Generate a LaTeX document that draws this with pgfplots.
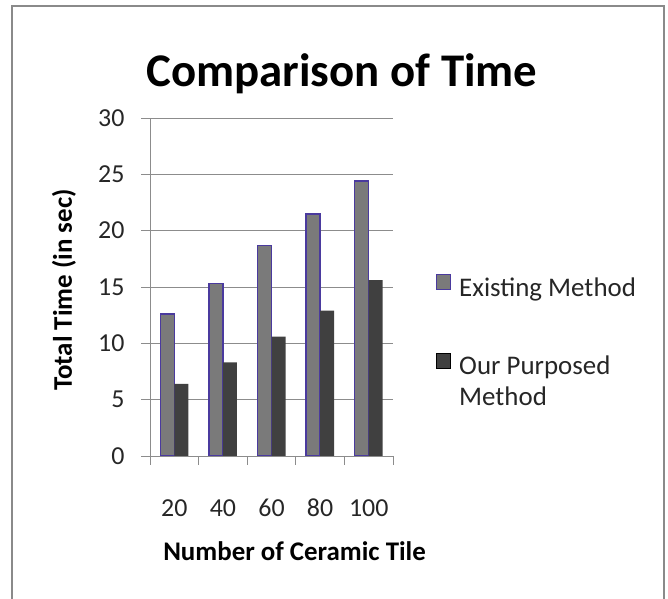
\documentclass[border=0pt]{standalone}
\usepackage{fontspec}
\setmainfont{Carlito}
\usepackage{pgfplots}
\pgfplotsset{compat=1.18}
\definecolor{exfill}{HTML}{7A7A7A}
\definecolor{ourfill}{HTML}{404040}
\definecolor{exedge}{HTML}{4A3A9E}
\definecolor{gridc}{HTML}{8C8C8C}
\definecolor{framec}{HTML}{8A8A8A}
\begin{document}
\begin{tikzpicture}[x=1bp,y=1bp]
\useasboundingbox (0,0) rectangle (668,599);
\draw[framec, line width=2bp] (12,-5) -- (12,593) -- (664,593) -- (664,-5);
\begin{axis}[
 at={(150bp,143bp)}, anchor=south west,
 scale only axis, width=243bp, height=338bp,
 ymin=0, ymax=30, ytick={0,5,...,30},
 xmin=0.5, xmax=5.5, xtick={1,2,3,4,5}, xticklabels={20,40,60,80,100},
 xtick style={draw=none},
 extra x ticks={0.5,1.5,2.5,3.5,4.5,5.5}, extra x tick labels={},
 extra x tick style={xtick style={draw=gridc}},
 axis lines*=left,
 axis line style={gridc, line width=0.8bp},
 tick style={gridc, line width=0.8bp},
 tick align=outside, major tick length=9bp,
 ymajorgrids, grid style={gridc, line width=0.8bp},
 /pgf/number format/assume math mode=true,
 ticklabel style={font=\fontsize{26}{30}\selectfont, text=black!85},
 xticklabel style={anchor=base, yshift=-52bp},
 yticklabel style={xshift=-13bp},
 ybar=0pt, bar width=14bp,
 title={Comparison of Time},
 title style={at={(axis description cs:0.79,1.074)}, anchor=base, font=\bfseries\fontsize{47}{52}\selectfont},
 xlabel={Number of Ceramic Tile},
 xlabel style={at={(axis description cs:0.595,-0.308)}, anchor=base, font=\bfseries\fontsize{27}{32}\selectfont},
 ylabel={Total Time (in sec)},
 ylabel style={at={(axis description cs:-0.354,0.491)}, anchor=center, font=\bfseries\fontsize{27}{32}\selectfont},
 legend style={draw=none, fill=none, at={(axis description cs:1.175,0.54)}, anchor=north west,
   inner sep=0pt, row sep=53bp, font=\fontsize{27}{31}\selectfont, text=black!85,
   nodes={inner xsep=8bp}},
 legend cell align=left,
 legend image code/.code={\draw[#1] (0bp,-2bp) rectangle (14bp,13bp);},
]
\addplot[fill=exfill, draw=exedge, line width=1.5bp] coordinates {(1,12.6) (2,15.3) (3,18.7) (4,21.5) (5,24.4)};
\addplot[fill=ourfill, draw=none] coordinates {(1,6.4) (2,8.3) (3,10.6) (4,12.9) (5,15.6)};
\legend{Existing Method, {\vtop{\baselineskip=31bp\hbox{Our Purposed}\hbox{Method}}}}
\end{axis}
\end{tikzpicture}
\end{document}
